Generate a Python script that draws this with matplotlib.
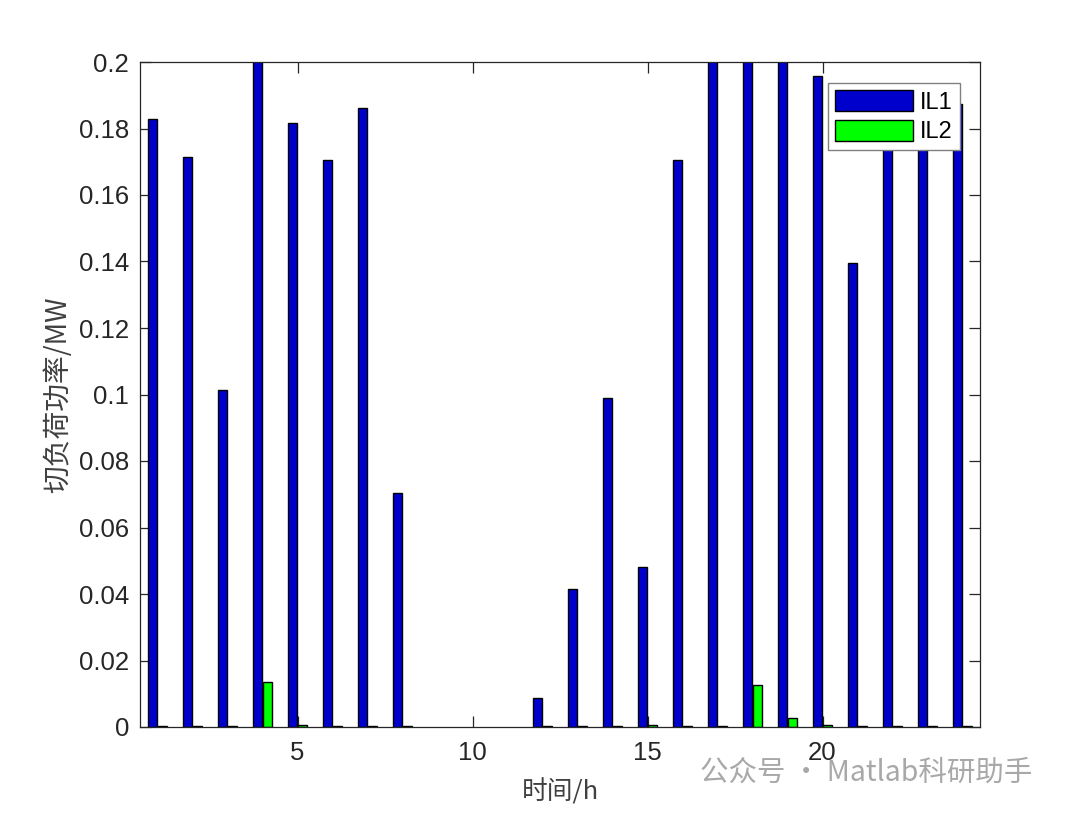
import numpy as np
import matplotlib
matplotlib.use("Agg")
import matplotlib.pyplot as plt

plt.rcParams['font.family'] = ['Liberation Sans', 'Noto Sans CJK SC', 'DejaVu Sans']

hours = list(range(1, 25))
il1 = [0.1828, 0.1714, 0.1013, 0.2005, 0.1817, 0.1705, 0.1862, 0.0703,
       0.0, 0.0, 0.0, 0.0087, 0.0414, 0.0989, 0.0481, 0.1705,
       0.2005, 0.2005, 0.2005, 0.1957, 0.1396, 0.1850, 0.1900, 0.1874]
il2 = [0.0003, 0.0003, 0.0003, 0.0135, 0.0006, 0.0003, 0.0003, 0.0003,
       0.0, 0.0, 0.0, 0.0003, 0.0003, 0.0003, 0.0006, 0.0003,
       0.0003, 0.0126, 0.0027, 0.0006, 0.0003, 0.0003, 0.0003, 0.0003]
series_names = ['IL1', 'IL2']
series_colors = ['#0000CC', '#00FF00']
xticks = [5, 10, 15, 20]
yticks = [0, 0.02, 0.04, 0.06, 0.08, 0.1, 0.12, 0.14, 0.16, 0.18, 0.2]
ytick_labels = ['0', '0.02', '0.04', '0.06', '0.08', '0.1', '0.12', '0.14', '0.16', '0.18', '0.2']

W, H = 1080, 814
fig = plt.figure(figsize=(W / 100, H / 100), dpi=100)
ax = fig.add_axes([140 / W, (H - 727) / H, 840 / W, 665 / H])

x = np.array(hours, dtype=float)
offset = 0.143
bw = 0.235
for vals, off, name, col in zip([il1, il2], [-offset, offset], series_names, series_colors):
    v = np.array(vals)
    m = v > 0
    ax.bar(x[m] + off, v[m], width=bw, color=col, edgecolor='black',
           linewidth=1.0, label=name, zorder=2)

ax.set_xlim(0.5, 24.5)
ax.set_ylim(0, 0.2)
ax.set_xticks(xticks)
ax.set_xticklabels([str(t) for t in xticks])
ax.set_yticks(yticks)
ax.set_yticklabels(ytick_labels)
ax.tick_params(direction='in', length=8, width=0.9, colors='#262626',
               labelsize=18.5, top=True, right=True, pad=8)
ax.tick_params(axis='x', pad=10)
for s in ax.spines.values():
    s.set_color('#262626')
    s.set_linewidth(0.9)
    s.set_zorder(5)

ax.set_ylabel('切负荷功率/MW', fontsize=20, color='#404040',
              family=['Noto Sans CJK SC', 'DejaVu Sans'], labelpad=4)
ax.set_xlabel('时间/h', fontsize=18.5, color='#404040',
              family=['Noto Sans CJK SC', 'DejaVu Sans'], labelpad=10)

leg = ax.legend(loc='upper right', bbox_to_anchor=((960 - 140) / 840, (727 - 83) / 665),
                fontsize=17, frameon=True, fancybox=False, framealpha=1,
                edgecolor='#808080', handlelength=3.3, handleheight=1.0,
                borderaxespad=0, borderpad=0.3, labelspacing=0.25, handletextpad=0.3)
leg.get_frame().set_linewidth(1.0)

fig.text(700 / W, 1 - 773 / H, '公众号 · Matlab科研助手', fontsize=20.5, color='#A8A8A8',
         family=['Noto Sans CJK SC', 'DejaVu Sans'], va='center', ha='left')

fig.savefig('out.png', dpi=100, facecolor='white')
